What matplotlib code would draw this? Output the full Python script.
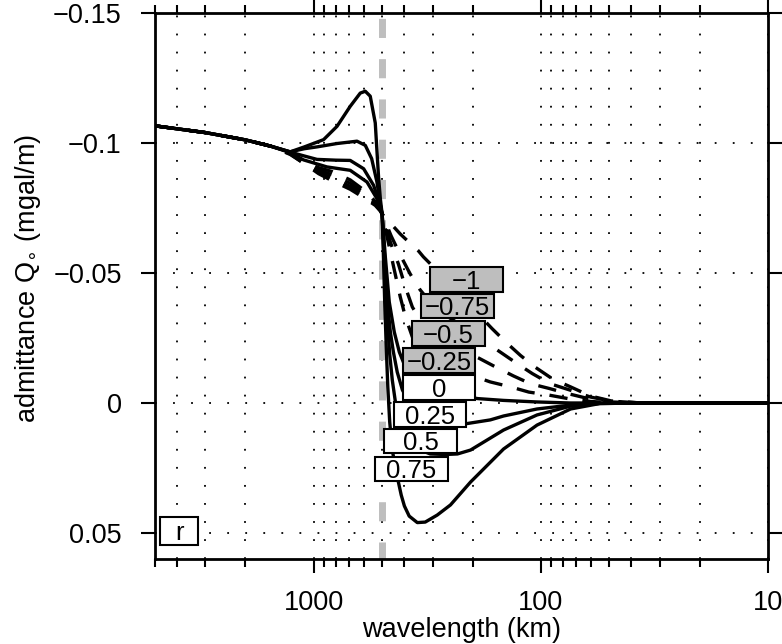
import matplotlib
matplotlib.use("Agg")
import matplotlib.pyplot as plt
from matplotlib.patches import Rectangle

plt.rcParams['font.family'] = ['Liberation Sans', 'DejaVu Sans']
plt.rcParams['mathtext.fontset'] = 'dejavusans'

# ---------------- data (wavelength in km, admittance in mgal/m) ----------------
R_VALUES = [-1, -0.75, -0.5, -0.25, 0, 0.25, 0.5, 0.75]
R_LABELS = ["\u22121", "\u22120.75", "\u22120.5", "\u22120.25", "0", "0.25", "0.5", "0.75"]

COMMON_KM = [5000, 3000, 2000, 1550]
COMMON_Q = [-0.1066, -0.1040, -0.1012, -0.0988]

KM_P075 = [1270, 1100, 905, 790, 691, 624, 593, 564, 536, 527, 518, 509, 500,
           494, 487, 479, 472, 463, 451, 437, 424, 412, 399, 380, 350,
           323, 286, 250, 204, 146, 104, 74, 55, 36, 10]
Q_P075 = [-0.0966, -0.0985, -0.1013, -0.1064, -0.1141, -0.1192, -0.1199, -0.1180, -0.1077, -0.0970, -0.0865, -0.0785, -0.0727,
          -0.0581, -0.0388, -0.0204, -0.0062, 0.0073, 0.0181, 0.0250, 0.0304, 0.0354, 0.0396, 0.0435, 0.0460,
          0.0458, 0.0431, 0.0392, 0.0304, 0.0177, 0.0085, 0.0023, 0.0002, 0.0, 0.0]

KM_P050 = [1270, 1100, 968, 790, 645, 593, 556, 527, 509, 500,
           492, 482, 472, 463, 451, 437, 420, 395, 357, 307, 263, 233, 204, 146, 104, 74, 55, 36, 10]
Q_P050 = [-0.0966, -0.0978, -0.0985, -0.0998, -0.1007, -0.0991, -0.0940, -0.0850, -0.0762, -0.0727,
          -0.0588, -0.0427, -0.0292, -0.0188, -0.0088, -0.0004, 0.0069, 0.0131, 0.0173, 0.0196, 0.0198, 0.0196,
          0.0181, 0.0104, 0.0046, 0.0012, 0.0002, 0.0, 0.0]

KM_P025 = [1270, 1100, 968, 800, 691, 603, 545, 509, 500,
           489, 474, 460, 446, 429, 407, 376, 333, 277, 211, 167, 146, 104, 74, 55, 36, 10]
Q_P025 = [-0.0965, -0.0950, -0.0937, -0.0934, -0.0933, -0.0901, -0.0837, -0.0760, -0.0727,
          -0.0581, -0.0388, -0.0273, -0.0196, -0.0119, -0.0050, 0.0004, 0.0046, 0.0069, 0.0079, 0.0065,
          0.0050, 0.0023, 0.0008, 0.0001, 0.0, 0.0]

KM_P000 = [1270, 1109, 875, 691, 583, 527, 509, 500,
           484, 465, 442, 420, 395, 368, 323, 263, 215, 190, 146, 104, 74, 55, 10]
Q_P000 = [-0.0963, -0.0935, -0.0908, -0.0895, -0.0850, -0.0786, -0.0755, -0.0727,
          -0.0562, -0.0388, -0.0273, -0.0196, -0.0138, -0.0100, -0.0062, -0.0038, -0.0025, -0.0017,
          -0.0010, -0.0004, 0.0, 0.0, 0.0]

KM_M025 = [1270, 1100, 950, 830, 691, 593, 536, 509, 500,
           470, 442, 416, 395, 368, 323, 263, 215, 190, 167, 136, 113, 93, 76, 60.5, 49, 36, 10]
Q_M025 = [-0.0962, -0.0928, -0.0905, -0.0890, -0.0858, -0.0815, -0.0775, -0.0745, -0.0727,
          -0.0619, -0.0512, -0.0408, -0.0331, -0.0254, -0.0177, -0.0131, -0.0108, -0.0098, -0.0081,
          -0.0062, -0.0042, -0.0031, -0.0017, -0.0006, -0.0001, 0.0, 0.0]

KM_M050 = [1270, 1100, 950, 830, 691, 593, 536, 509, 500,
           460, 424, 395, 368, 340, 277, 226, 188, 161, 132, 111, 92, 76, 60.5, 49, 36, 10]
Q_M050 = [-0.0960, -0.0925, -0.0896, -0.0878, -0.0845, -0.0805, -0.0770, -0.0742, -0.0727,
          -0.0619, -0.0535, -0.0446, -0.0369, -0.0319, -0.0250, -0.0204, -0.0173, -0.0142, -0.0104,
          -0.0074, -0.0056, -0.0036, -0.0015, -0.0004, 0.0, 0.0]

KM_M075 = [1270, 1100, 950, 830, 691, 593, 536, 509, 500,
           456, 412, 376, 340, 307, 263, 215, 173, 151, 127, 109, 91, 74, 60.5, 49, 36, 10]
Q_M075 = [-0.0958, -0.0920, -0.0888, -0.0866, -0.0833, -0.0795, -0.0765, -0.0740, -0.0727,
          -0.0642, -0.0562, -0.0496, -0.0435, -0.0388, -0.0338, -0.0288, -0.0231, -0.0196, -0.0151,
          -0.0113, -0.0074, -0.0049, -0.0023, -0.0007, 0.0, 0.0]

KM_M100 = [1270, 1127, 952, 830, 691, 593, 536, 509, 500,
           460, 416, 377, 346, 329, 297, 250, 204, 164, 143, 123, 106, 89, 74, 60.5, 49, 36, 10]
Q_M100 = [-0.0956, -0.0927, -0.0882, -0.0855, -0.0822, -0.0786, -0.0760, -0.0738, -0.0727,
          -0.0692, -0.0650, -0.0615, -0.0585, -0.0562, -0.0523, -0.0454, -0.0373, -0.0286, -0.0235,
          -0.0183, -0.0138, -0.0093, -0.0062, -0.0027, -0.0008, 0.0, 0.0]

CURVES_KM = [KM_M100, KM_M075, KM_M050, KM_M025, KM_P000, KM_P025, KM_P050, KM_P075]
CURVES_Q = [Q_M100, Q_M075, Q_M050, Q_M025, Q_P000, Q_P025, Q_P050, Q_P075]

FLEX_WAVELENGTH = 500

X_MAJOR = [1000, 100, 10]
X_MAJOR_LABELS = ["1000", "100", "10"]
X_MINOR = [5000, 4000, 3000, 2000, 900, 800, 700, 600, 500, 400, 300, 200,
           90, 80, 70, 60, 50, 40, 30, 20]
Y_TICKS = [-0.15, -0.1, -0.05, 0, 0.05]
Y_TICK_LABELS = ["\u22120.15", "\u22120.1", "\u22120.05", "0", "0.05"]

# label box centres (axes fraction) -- layout
BOX_CX = [0.5082, 0.4935, 0.4788, 0.4633, 0.4633, 0.4486, 0.4331, 0.4184]
BOX_CY = [0.5119, 0.4634, 0.4130, 0.3636, 0.3141, 0.2647, 0.2161, 0.1648]

# ---------------- figure ----------------
W, H = 782, 644
fig = plt.figure(figsize=(W / 100, H / 100), dpi=100)
ax = fig.add_axes([155 / W, 1 - 559 / H, 613 / W, 546 / H])

ax.set_xscale('log')
ax.set_xlim(5000, 10)
ax.set_ylim(0.060, -0.15)

dot = (0, (1, 9))
for x in X_MAJOR + X_MINOR:
    ax.axvline(x, color='black', lw=1.3, linestyle=dot, zorder=1)
for y in Y_TICKS:
    ax.axhline(y, color='black', lw=1.3, linestyle=dot, zorder=1)

ax.axvline(FLEX_WAVELENGTH, color='#bebebe', lw=5, linestyle=(0.3, (2.75, 3.05)), zorder=2)

for r, km, q in zip(R_VALUES, CURVES_KM, CURVES_Q):
    xs = COMMON_KM + km
    ys = COMMON_Q + q
    if r < 0:
        ax.plot(xs, ys, color='black', lw=2.4, linestyle=(0, (5.5, 4.5)), zorder=3,
                dash_capstyle='butt', dash_joinstyle='round')
    else:
        ax.plot(xs, ys, color='black', lw=2.4, linestyle='-', zorder=3,
                solid_joinstyle='round')

bw, bh = 0.119, 0.0449
for r, lab, cx, cy in zip(R_VALUES, R_LABELS, BOX_CX, BOX_CY):
    fc = '#bebebe' if r < 0 else 'white'
    ax.add_patch(Rectangle((cx - bw / 2, cy - bh / 2), bw, bh, transform=ax.transAxes,
                           facecolor=fc, edgecolor='black', lw=1.5, zorder=5))
    ax.text(cx, cy - 0.0045, lab, transform=ax.transAxes, ha='center', va='center',
            fontsize=18.5, zorder=6)

ax.add_patch(Rectangle((0.0392 - 0.031, 0.0513 - 0.0255), 0.062, 0.051, transform=ax.transAxes,
                       facecolor='white', edgecolor='black', lw=1.5, zorder=5))
ax.text(0.0392, 0.0478, "r", transform=ax.transAxes, ha='center', va='center',
        fontsize=18.5, zorder=6)

ax.set_xticks(X_MAJOR)
ax.set_xticklabels(X_MAJOR_LABELS)
ax.set_xticks(X_MINOR, minor=True)
ax.set_xticklabels([], minor=True)
ax.set_yticks(Y_TICKS)
ax.set_yticklabels(Y_TICK_LABELS)
ax.yaxis.set_minor_locator(matplotlib.ticker.NullLocator())

ax.tick_params(which='both', direction='out', top=True, right=True,
               labeltop=False, labelright=False, labelsize=19.5, width=1.5)
ax.tick_params(which='major', length=10)
ax.tick_params(axis='x', which='major', pad=12)
ax.tick_params(axis='y', which='major', pad=14)
ax.tick_params(which='minor', length=6)
for s in ax.spines.values():
    s.set_linewidth(2.0)

ax.set_xlabel("wavelength (km)", fontsize=19.5)
ax.xaxis.set_label_coords(0.5, -0.106)
ax.set_ylabel(r"admittance Q$_{\circ}$ (mgal/m)", fontsize=19.5)
ax.yaxis.set_label_coords(-0.182, 0.513)

fig.savefig("out.png", dpi=100)
